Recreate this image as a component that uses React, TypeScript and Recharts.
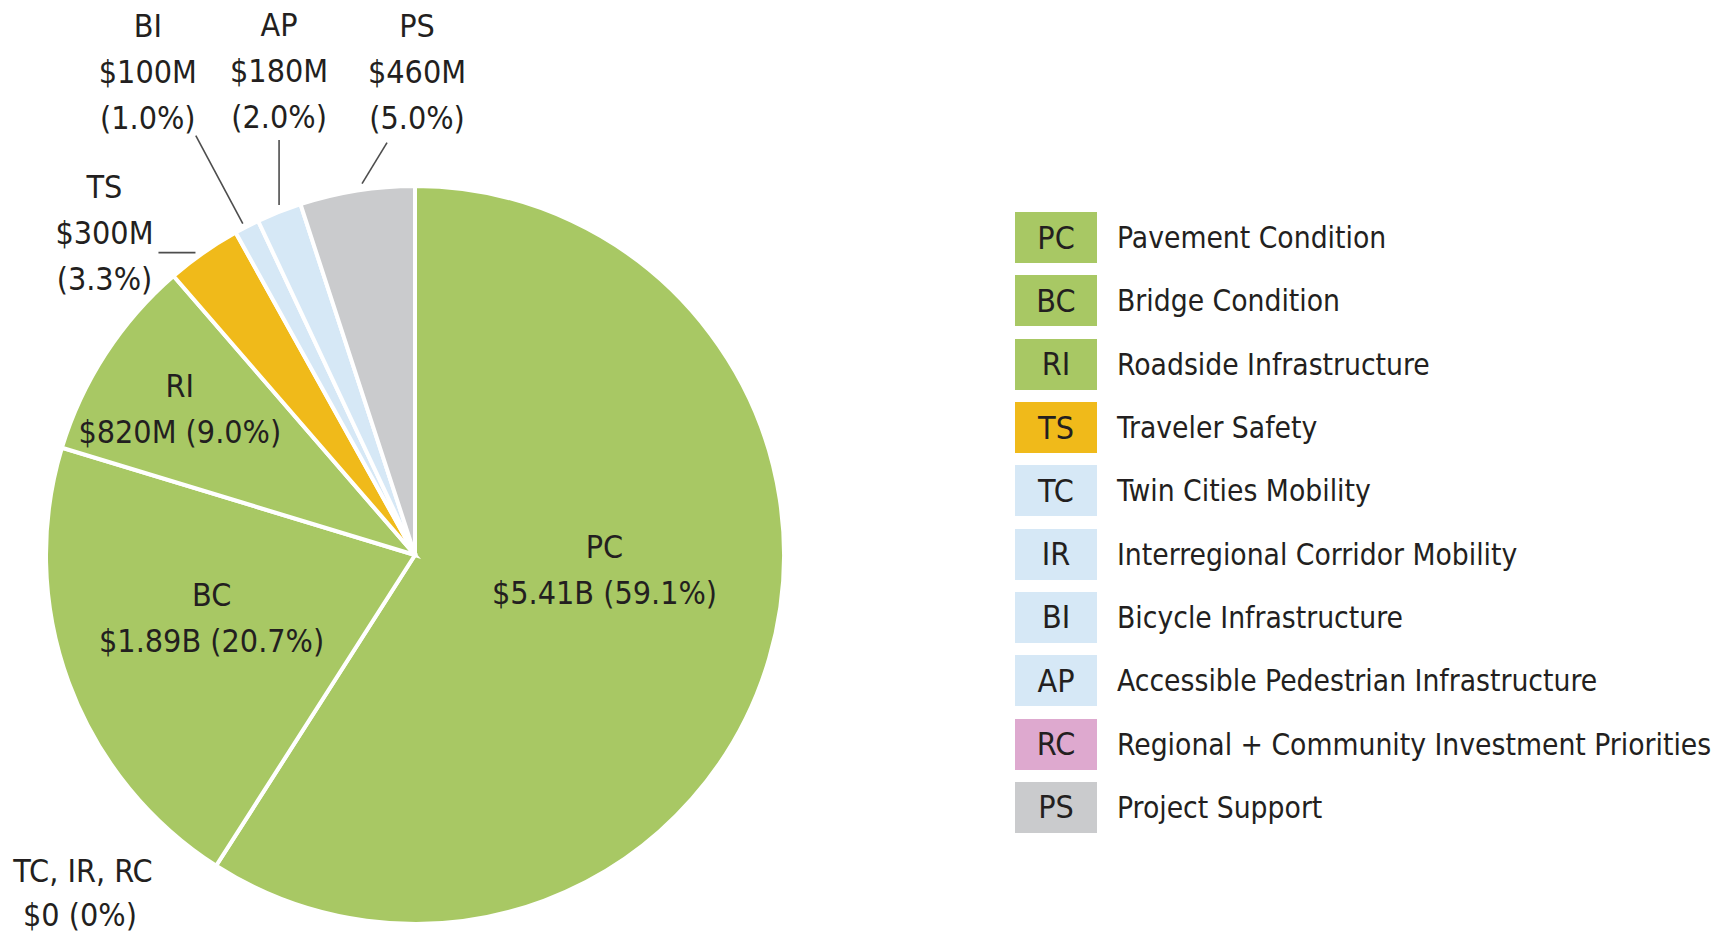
import React from 'react';
import { PieChart, Pie, Cell, Legend } from 'recharts';

// ---- Data ----
const codes = ['PC', 'BC', 'RI', 'TS', 'TC', 'IR', 'BI', 'AP', 'RC', 'PS'];
const names = [
  'Pavement Condition',
  'Bridge Condition',
  'Roadside Infrastructure',
  'Traveler Safety',
  'Twin Cities Mobility',
  'Interregional Corridor Mobility',
  'Bicycle Infrastructure',
  'Accessible Pedestrian Infrastructure',
  'Regional + Community Investment Priorities',
  'Project Support',
];
const valuesM = [5410, 1890, 820, 300, 0, 0, 100, 180, 0, 460];
const amountLabels = ['$5.41B', '$1.89B', '$820M', '$300M', '$0', '$0', '$100M', '$180M', '$0', '$460M'];
const percentLabels = ['59.1%', '20.7%', '9.0%', '3.3%', '0%', '0%', '1.0%', '2.0%', '0%', '5.0%'];
const colors = ['#A8C864', '#A8C864', '#A8C864', '#F0BA1A', '#D6E8F6', '#D6E8F6', '#D6E8F6', '#D6E8F6', '#DEA9CF', '#CACBCD'];

// ---- Styling / layout ----
const FONT = "'Liberation Sans Narrow', 'DejaVu Sans Condensed', 'Roboto Condensed', 'Liberation Sans', sans-serif";
const TEXT = '#231F20';
const LABEL_SIZE = 32;
const LINE_GAP = 46;
const CX = 415;
const CY = 555;
const R = 369;

// inside labels: polar placement (fraction of radius, angle in degrees)
const insideLayout: Record<string, { rf: number; angle: number }> = {
  PC: { rf: 0.515, angle: -4.4 },
  BC: { rf: 0.577, angle: -162.8 },
  RI: { rf: 0.75, angle: 148.2 },
};
// outside labels: leader line offsets relative to the slice's outer mid point
const outsideLayout: Record<string, { s: [number, number]; e: [number, number]; t: [number, number] }> = {
  TS: { s: [-8, 0], e: [-37, 0], t: [-54, -66] },
  BI: { s: [-4, -3], e: [-47, -88], t: [-48, -110] },
  AP: { s: [0, -7], e: [0, -65], t: [0, -115] },
  PS: { s: [5, -7], e: [25, -41], t: [30, -117] },
};

const allRows = codes.map((code, i) => ({
  code,
  name: names[i],
  value: valuesM[i],
  amount: amountLabels[i],
  pct: percentLabels[i],
  color: colors[i],
}));
const pieData = allRows.filter((d) => d.value > 0);
const zeroRows = allRows.filter((d) => d.value === 0);

const RAD = Math.PI / 180;
const polar = (cx: number, cy: number, r: number, a: number) => [cx + r * Math.cos(-a * RAD), cy + r * Math.sin(-a * RAD)];

const tStyle = { fontFamily: FONT, fontSize: LABEL_SIZE, fill: TEXT };

const renderLabel = (props: any) => {
  const { cx, cy, midAngle, outerRadius, index } = props;
  const d = pieData[index];
  if (!d) return null;
  if (insideLayout[d.code]) {
    const L = insideLayout[d.code];
    const [x, y] = polar(cx, cy, outerRadius * L.rf, L.angle);
    return (
      <g>
        <text x={x} y={y - LINE_GAP / 2} textAnchor="middle" dominantBaseline="central" style={tStyle}>{d.code}</text>
        <text x={x} y={y + LINE_GAP / 2} textAnchor="middle" dominantBaseline="central" style={tStyle}>{`${d.amount} (${d.pct})`}</text>
      </g>
    );
  }
  const O = outsideLayout[d.code];
  if (!O) return null;
  const [px, py] = polar(cx, cy, outerRadius, midAngle);
  const sx = px + O.s[0];
  const sy = py + O.s[1];
  const ex = sx + O.e[0];
  const ey = sy + O.e[1];
  const tx = ex + O.t[0];
  const ty = ey + O.t[1];
  const lines = [d.code, d.amount, `(${d.pct})`];
  return (
    <g>
      <line x1={sx} y1={sy} x2={ex} y2={ey} stroke="#4D4D4D" strokeWidth={1.6} />
      {lines.map((s, i) => (
        <text key={i} x={tx} y={ty + i * LINE_GAP} textAnchor="middle" dominantBaseline="central" style={tStyle}>{s}</text>
      ))}
    </g>
  );
};

const LegendContent = () => (
  <div style={{ fontFamily: FONT, color: TEXT }}>
    {allRows.map((d) => (
      <div key={d.code} style={{ display: 'flex', alignItems: 'center', height: 63.3 }}>
        <div
          style={{
            width: 82,
            height: 51,
            background: d.color,
            display: 'flex',
            alignItems: 'center',
            justifyContent: 'center',
            fontSize: 32,
          }}
        >
          {d.code}
        </div>
        <div style={{ marginLeft: 20, fontSize: 29.7, whiteSpace: 'nowrap' }}>{d.name}</div>
      </div>
    ))}
  </div>
);

export default function App() {
  return (
    <div style={{ position: 'absolute', left: 0, top: 0, background: '#fff' }}>
      <PieChart width={1729} height={938} margin={{ top: 0, right: 0, bottom: 0, left: 0 }}>
        <Pie
          data={pieData}
          dataKey="value"
          nameKey="code"
          cx={CX}
          cy={CY}
          outerRadius={R}
          startAngle={90}
          endAngle={-270}
          stroke="#FFFFFF"
          strokeWidth={4}
          label={renderLabel}
          labelLine={false}
          isAnimationActive={false}
        >
          {pieData.map((d) => (
            <Cell key={d.code} fill={d.color} />
          ))}
        </Pie>
        <Legend
          content={<LegendContent />}
          wrapperStyle={{ left: 1015, top: 206, width: 712, bottom: 'auto', right: 'auto' }}
        />
        <g>
          <text x={83} y={871} textAnchor="middle" dominantBaseline="central" style={tStyle}>
            {zeroRows.map((d) => d.code).join(', ')}
          </text>
          <text x={80} y={915} textAnchor="middle" dominantBaseline="central" style={tStyle}>
            {`${zeroRows[0].amount} (${zeroRows[0].pct})`}
          </text>
        </g>
      </PieChart>
    </div>
  );
}
